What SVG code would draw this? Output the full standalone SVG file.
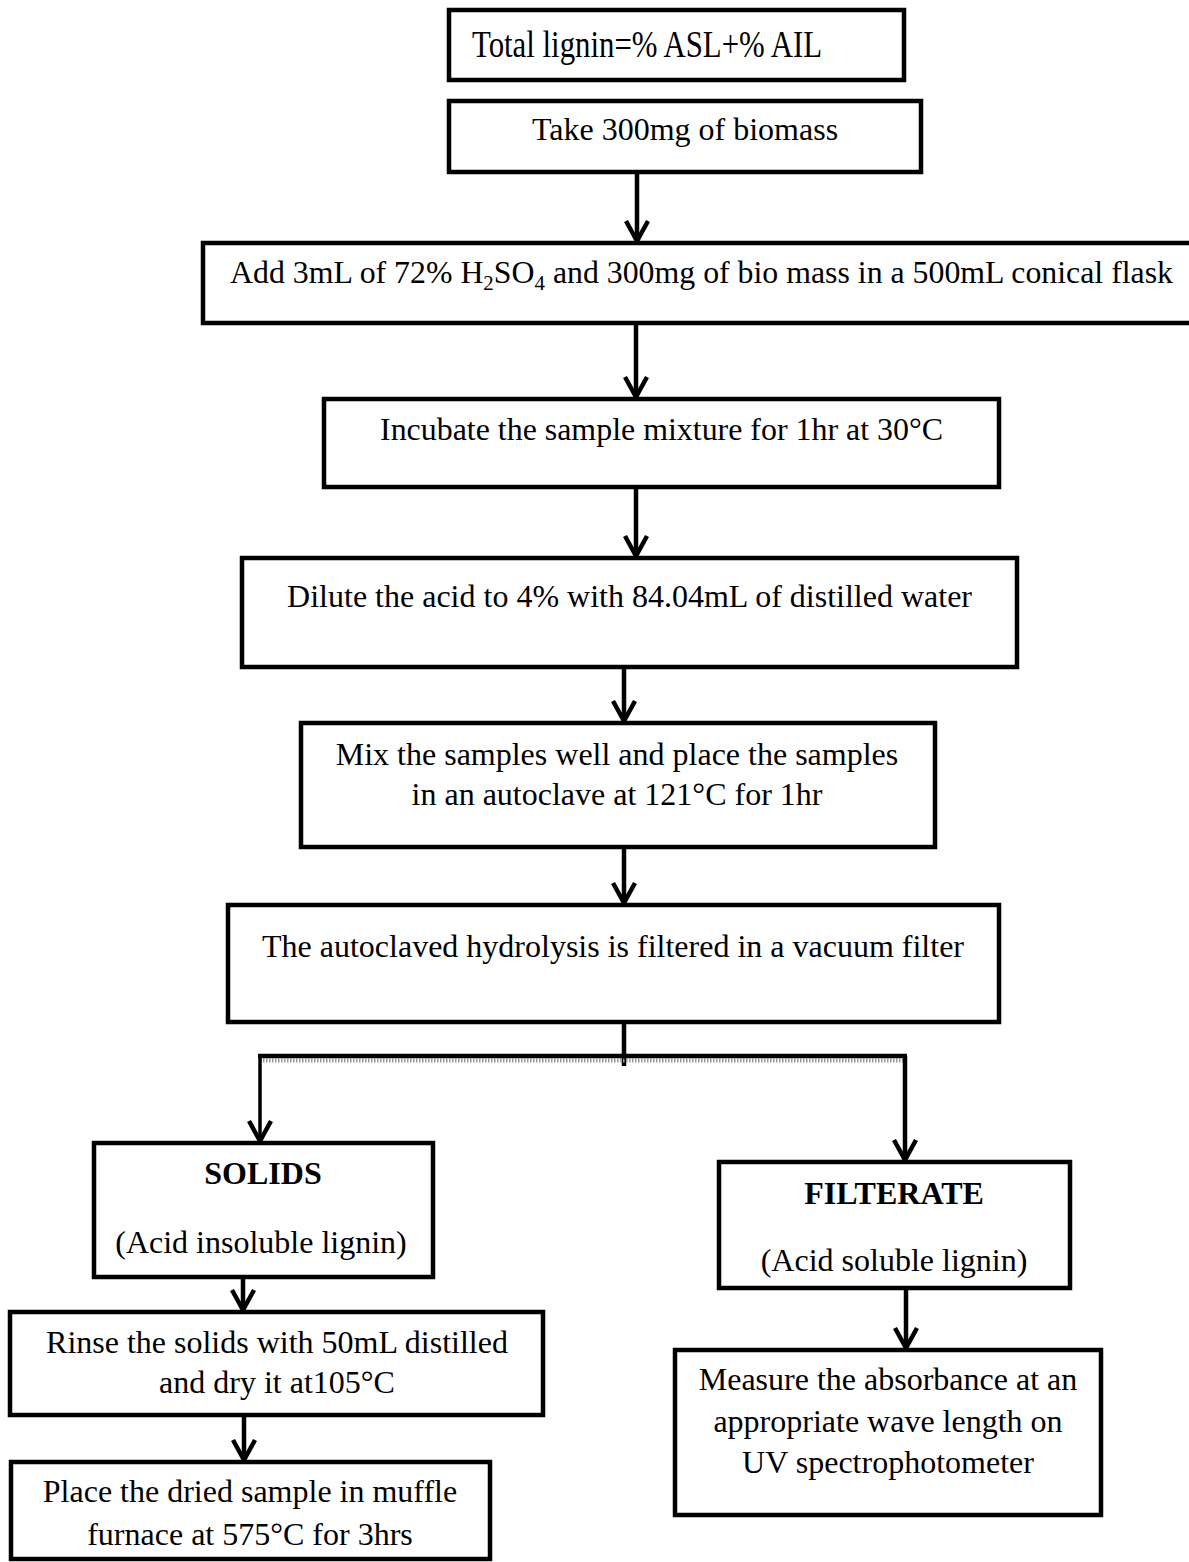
<svg xmlns="http://www.w3.org/2000/svg" width="1189" height="1562" viewBox="0 0 1189 1562">
<style>
  .box { fill: #ffffff; stroke: #000000; stroke-width: 4.5; }
  .t { font-family: "Liberation Serif", "Times New Roman", serif; font-size: 32px; fill: #000000; }
  .b { font-weight: bold; }
  .c { text-anchor: middle; }
  .conn { fill: none; stroke: #000000; stroke-width: 4.5; }
  .thin { stroke-width: 3.5; }
</style>
<defs>
  <marker id="ah" viewBox="-23 -13 26 26" refX="0" refY="0" markerWidth="26" markerHeight="26" orient="auto" markerUnits="userSpaceOnUse">
    <path d="M -20 -11 L 0 0 L -20 11" fill="none" stroke="#000000" stroke-width="4.5" stroke-linejoin="miter"/>
  </marker>
</defs>
<rect width="1189" height="1562" fill="#ffffff"/>

<g id="connectors">
  <line class="conn" x1="637" y1="167" x2="637" y2="241" marker-end="url(#ah)"/>
  <line class="conn" x1="636" y1="318" x2="636" y2="397" marker-end="url(#ah)"/>
  <line class="conn" x1="636" y1="473" x2="636" y2="556" marker-end="url(#ah)"/>
  <line class="conn" x1="624" y1="653" x2="624" y2="721" marker-end="url(#ah)"/>
  <line class="conn" x1="624" y1="837" x2="624" y2="903" marker-end="url(#ah)"/>
  <line class="conn" x1="624" y1="1020" x2="624" y2="1066"/>
  <line x1="260" y1="1060.5" x2="905" y2="1060.5" stroke="#9a9a9a" stroke-width="4" stroke-dasharray="1.5 1.5"/>
  <line class="conn" x1="258" y1="1056" x2="907" y2="1056" stroke-width="4"/>
  <line class="conn thin" x1="260" y1="1056" x2="260" y2="1141" marker-end="url(#ah)"/>
  <line class="conn" x1="905" y1="1056" x2="905" y2="1160" marker-end="url(#ah)"/>
  <line class="conn" x1="243" y1="1260" x2="243" y2="1310" marker-end="url(#ah)"/>
  <line class="conn" x1="244" y1="1402" x2="244" y2="1460" marker-end="url(#ah)"/>
  <line class="conn" x1="906" y1="1288" x2="906" y2="1348" marker-end="url(#ah)"/>
</g>

<g id="node-total">
  <rect class="box" x="449" y="10" width="455" height="70"/>
  <text class="t" transform="translate(472,57) scale(1,1.2)" x="0" y="0" textLength="350" lengthAdjust="spacingAndGlyphs">Total lignin=% ASL+% AIL</text>
</g>

<g id="node-take">
  <rect class="box" x="449" y="101" width="472" height="71"/>
  <text class="t c" x="685" y="140">Take 300mg of biomass</text>
</g>

<g id="node-add">
  <rect class="box" x="203" y="243" width="995" height="80"/>
  <text class="t" x="230" y="283" textLength="943" lengthAdjust="spacingAndGlyphs">Add 3mL of 72% H<tspan font-size="21" dy="7">2</tspan><tspan dy="-7">SO</tspan><tspan font-size="21" dy="7">4</tspan><tspan dy="-7"> and 300mg of bio mass in a 500mL conical flask</tspan></text>
</g>

<g id="node-incubate">
  <rect class="box" x="324" y="399" width="675" height="88"/>
  <text class="t" x="380" y="440" textLength="563" lengthAdjust="spacingAndGlyphs">Incubate the sample mixture for 1hr at 30°C</text>
</g>

<g id="node-dilute">
  <rect class="box" x="242" y="558" width="775" height="109"/>
  <text class="t" x="972" y="607" text-anchor="end">Dilute the acid to 4% with 84.04mL of distilled water</text>
</g>

<g id="node-mix">
  <rect class="box" x="301" y="723" width="634" height="124"/>
  <text class="t c" x="617" y="765">Mix the samples well and place the samples</text>
  <text class="t c" x="617" y="805">in an autoclave at 121°C for 1hr</text>
</g>

<g id="node-filter">
  <rect class="box" x="228" y="905" width="771" height="117"/>
  <text class="t c" x="613" y="957">The autoclaved hydrolysis is filtered in a vacuum filter</text>
</g>

<g id="node-solids">
  <rect class="box" x="94" y="1143" width="339" height="134"/>
  <text class="t b c" x="263" y="1184">SOLIDS</text>
  <text class="t c" x="261" y="1253">(Acid insoluble lignin)</text>
</g>

<g id="node-filterate">
  <rect class="box" x="719" y="1162" width="351" height="126"/>
  <text class="t b c" x="894" y="1204">FILTERATE</text>
  <text class="t c" x="894" y="1271">(Acid soluble lignin)</text>
</g>

<g id="node-rinse">
  <rect class="box" x="10" y="1312" width="533" height="103"/>
  <text class="t c" x="277" y="1353">Rinse the solids with 50mL distilled</text>
  <text class="t c" x="277" y="1393">and dry it at105°C</text>
</g>

<g id="node-place">
  <rect class="box" x="11" y="1462" width="479" height="97"/>
  <text class="t c" x="250" y="1502">Place the dried sample in muffle</text>
  <text class="t c" x="250" y="1545">furnace at 575°C for 3hrs</text>
</g>

<g id="node-measure">
  <rect class="box" x="675" y="1350" width="426" height="165"/>
  <text class="t c" x="888" y="1390">Measure the absorbance at an</text>
  <text class="t c" x="888" y="1432">appropriate wave length on</text>
  <text class="t c" x="888" y="1473">UV spectrophotometer</text>
</g>
</svg>
